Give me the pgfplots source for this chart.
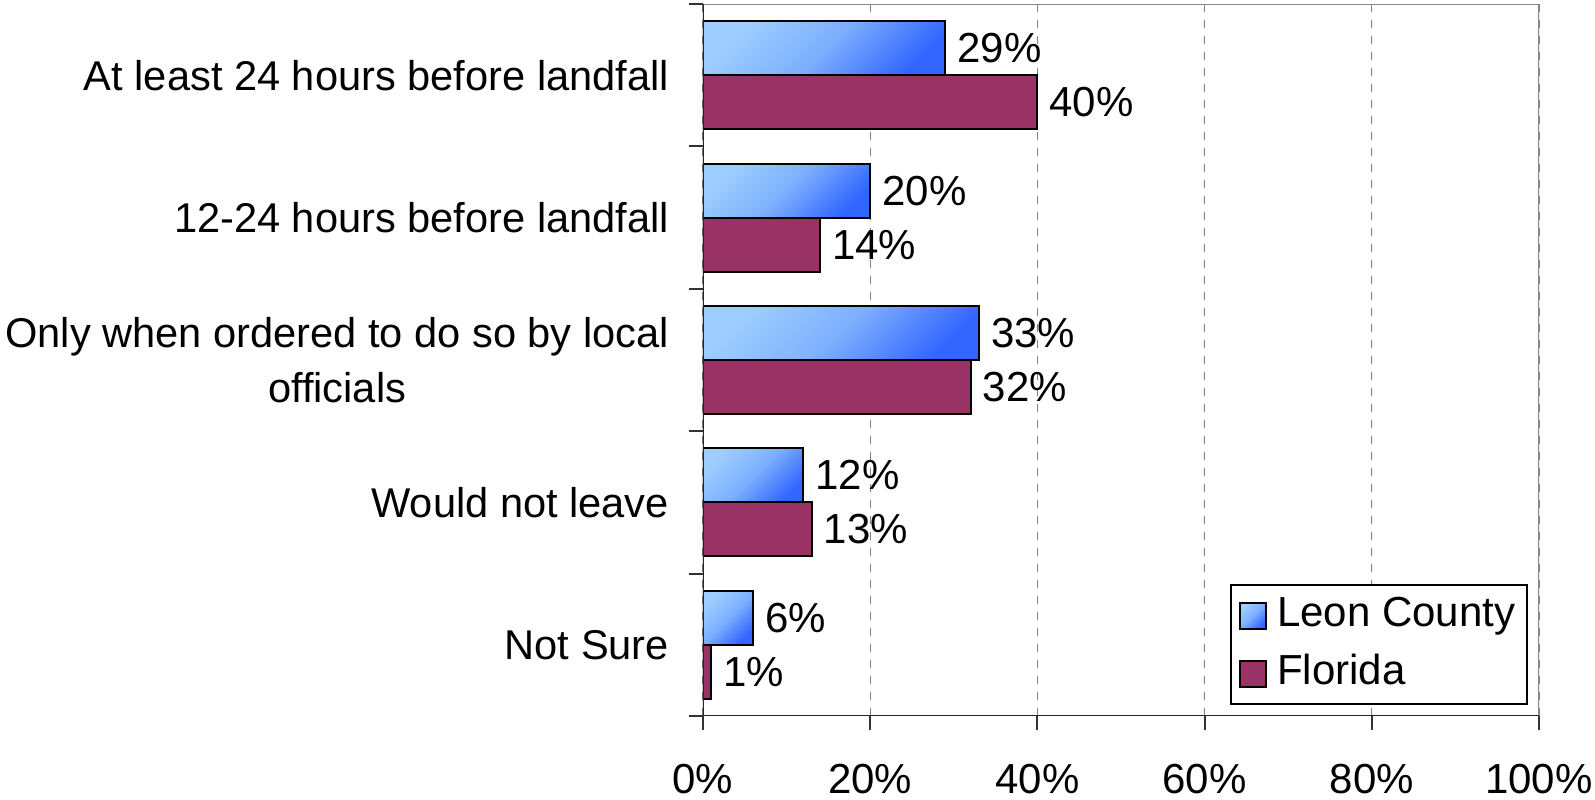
\documentclass[border=0pt]{standalone}
\usepackage{fontspec}
\setmainfont{Liberation Sans}
\usepackage{pgfplots}
\pgfplotsset{compat=1.18}
\definecolor{leonlight}{RGB}{158,206,255}
\definecolor{leonmid}{RGB}{125,175,255}
\definecolor{leondark}{RGB}{51,102,255}
\definecolor{florida}{RGB}{153,51,102}
\definecolor{framegray}{RGB}{136,136,136}
\pgfplotsset{
  sqlegend/.style={legend image code/.code={\draw[##1] (0pt,-3.25pt) rectangle (6.5pt,3.25pt);}},
  % each Leon bar is its own plot so that every bar gets its own gradient
  leon/.style={sqlegend, bar width=13.5pt, bar shift=6.75pt, draw=black, line width=0.5pt,
    top color=leonlight, bottom color=leondark, middle color=leonmid, shading angle=45},
}
\begin{document}
\begin{tikzpicture}[font=\fontsize{10.4}{12.5}\selectfont]
\begin{axis}[
    scale only axis,
    width=209pt, height=178pt,
    xbar,
    xmin=0, xmax=100, ymin=-0.5, ymax=4.5,
    xtick={0,20,...,100},
    xticklabel={\pgfmathprintnumber{\tick}\%},
    ytick={0,...,4},
    yticklabels={Not Sure, Would not leave, {Only when ordered to do so by local\\officials}, 12-24 hours before landfall, At least 24 hours before landfall},
    minor ytick={-0.5,0.5,...,4.5},
    tick align=outside,
    major tick length=3.5pt, minor tick length=3.5pt,
    major y tick style={draw=none},
    tick style={black!80, line width=0.5pt},
    xtick pos=left, ytick pos=left,
    /pgf/number format/assume math mode=true,
    xticklabel style={anchor=base, yshift=-16pt, font=\fontsize{10.5}{12.5}\selectfont},
    yticklabel style={anchor=east, inner sep=0pt, xshift=-4.8pt, align=center, font=\fontsize{10.4}{13.75}\selectfont},
    xmajorgrids,
    major x grid style={gray, line width=0.3pt, dash pattern=on 2pt off 2pt},
    axis line style={draw=none},
    nodes near coords={\pgfmathprintnumber{\pgfplotspointmeta}\%},
    point meta=x,
    every node near coord/.append style={font=\fontsize{10.5}{12.5}\selectfont, text=black, inner xsep=2.8pt},
    legend style={at={(1,0)}, anchor=south east, xshift=-2.75pt, yshift=2.75pt,
      draw=black, line width=0.4pt, inner xsep=2pt, inner ysep=2pt,
      row sep=3.2pt, column sep=1.5pt,
      nodes={inner sep=1pt, text height=7.3pt, text depth=2pt},
      font=\fontsize{10.5}{12.5}\selectfont},
    legend cell align=left,
  ]
  % Leon County
  \addplot[leon] coordinates {(29,4)};
  \addplot[leon, forget plot] coordinates {(20,3)};
  \addplot[leon, forget plot] coordinates {(33,2)};
  \addplot[leon, forget plot] coordinates {(12,1)};
  \addplot[leon, forget plot] coordinates {(6,0)};
  % Florida
  \addplot[sqlegend, bar width=13.5pt, bar shift=-6.75pt, draw=black, line width=0.5pt,
    fill=florida]
    coordinates {(40,4) (14,3) (32,2) (13,1) (1,0)};
  \legend{Leon County, Florida}
  \draw[framegray, line width=0.5pt] (rel axis cs:0,1) -- (rel axis cs:1,1) -- (rel axis cs:1,0);
  \draw[black!85, line width=0.5pt] (rel axis cs:0,1) -- (rel axis cs:0,0) -- (rel axis cs:1,0);
\end{axis}
\pgfresetboundingbox
\path[use as bounding box] ([xshift=-175.75pt,yshift=-21pt]current axis.south west) rectangle ([xshift=14pt,yshift=1pt]current axis.north east);
\end{tikzpicture}
\end{document}
